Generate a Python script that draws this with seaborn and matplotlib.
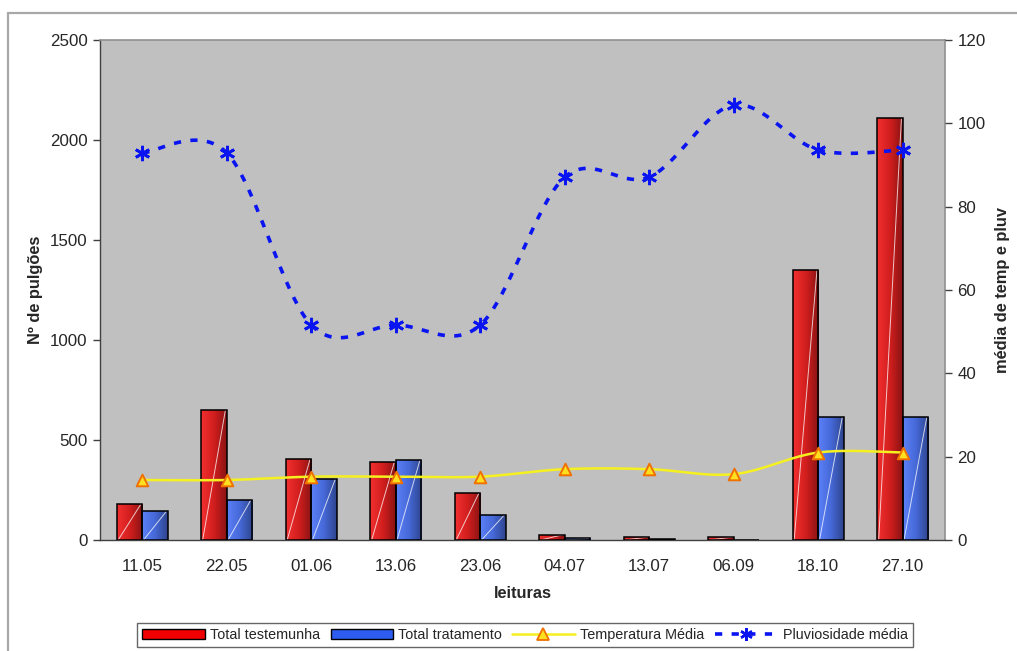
import numpy as np
import pandas as pd
import matplotlib
matplotlib.use("Agg")
import matplotlib.pyplot as plt
import seaborn as sns
from matplotlib.colors import to_rgb, LinearSegmentedColormap
from matplotlib.lines import Line2D
from matplotlib.patches import Patch

# ---- data ----
leituras = ["11.05", "22.05", "01.06", "13.06", "23.06", "04.07", "13.07", "06.09", "18.10", "27.10"]
total_testemunha = [180, 652, 403, 392, 235, 27, 15, 15, 1350, 2110]
total_tratamento = [143, 200, 305, 398, 125, 8, 3, 0, 615, 615]
temperatura_media = [14.4, 14.4, 15.2, 15.2, 15.2, 17.0, 17.0, 15.8, 21.0, 21.0]
pluviosidade_media = [92.9, 92.9, 51.6, 51.6, 51.6, 87.1, 87.1, 104.4, 93.6, 93.6]
left_ticks = [0, 500, 1000, 1500, 2000, 2500]
right_ticks = [0, 20, 40, 60, 80, 100, 120]

RED = "#F00000"
BLUE = "#2E5CF0"

sns.set_theme(style="white")
plt.rcParams["font.family"] = ["Liberation Sans", "DejaVu Sans"]

df = pd.DataFrame({
    "leitura": leituras * 2,
    "serie": ["Total testemunha"] * len(leituras) + ["Total tratamento"] * len(leituras),
    "valor": total_testemunha + total_tratamento,
})

fig = plt.figure(figsize=(10.17, 6.51), dpi=100)
W, H = 1017, 651
ax = fig.add_axes([100 / W, (H - 540) / H, 845 / W, 500 / H])
ax.set_facecolor("#C0C0C0")

sns.barplot(data=df, x="leitura", y="valor", hue="serie", order=leituras,
            hue_order=["Total testemunha", "Total tratamento"],
            palette={"Total testemunha": RED, "Total tratamento": BLUE},
            width=0.6, gap=0, edgecolor="black", linewidth=1.1,
            errorbar=None, legend=False, ax=ax, zorder=3)

ax.set_xlim(-0.5, len(leituras) - 0.5)
ax.set_ylim(0, 2500)

# gradient fill + highlight line on bars
bars = [p for p in ax.patches if p.get_height() > 0]
for p in bars:
    x0, w, h = p.get_x(), p.get_width(), p.get_height()
    base = np.array(to_rgb(p.get_facecolor()))
    light = np.clip(base * 1.08 + 0.06, 0, 1)
    dark = base * 0.65
    cmap = LinearSegmentedColormap.from_list("g", [light, base, dark])
    grad = np.linspace(0, 1, 64).reshape(1, -1)
    im = ax.imshow(grad, extent=[x0, x0 + w, 0, h], aspect="auto", cmap=cmap,
                   zorder=2.9, origin="lower")
    im.set_clip_path(p)
    p.set_facecolor("none")
    p.set_zorder(3.1)
    ax.plot([x0 + w * 0.05, x0 + w * 0.95], [0, h], color="white", lw=0.7,
            alpha=0.75, zorder=3.0, solid_capstyle="butt")

ax.set_xlim(-0.5, len(leituras) - 0.5)
ax.set_ylim(0, 2500)
ax.set_yticks(left_ticks)
ax.set_xticks(range(len(leituras)))
ax.set_xticklabels(leituras)
ax.set_xticks(np.arange(-0.5, len(leituras), 1.0), minor=True)
ax.tick_params(axis="x", which="major", length=0, pad=14, labelsize=12.2)
ax.tick_params(axis="x", which="minor", length=6, width=1, color="#404040", direction="out")
ax.tick_params(axis="y", length=5, width=1, color="#404040", direction="out", pad=4,
               labelsize=12.2, left=True)
ax.set_xlabel("leituras", fontsize=11.8, fontweight="bold", labelpad=8)
ax.set_ylabel("Nº de pulgões", fontsize=11.8, fontweight="bold", labelpad=5)
for s in ["top", "right"]:
    ax.spines[s].set_color("#909090")
    ax.spines[s].set_linewidth(1.2)
for s in ["left", "bottom"]:
    ax.spines[s].set_color("#404040")
    ax.spines[s].set_linewidth(1.0)
ax.grid(False)


def smooth(ys, n=40):
    pts = np.column_stack([np.arange(len(ys), dtype=float), np.asarray(ys, float)])
    out = []
    for i in range(len(pts) - 1):
        p0 = pts[i - 1] if i > 0 else pts[i]
        p1, p2 = pts[i], pts[i + 1]
        p3 = pts[i + 2] if i + 2 < len(pts) else pts[i + 1]
        t = np.linspace(0, 1, n)[:, None]
        seg = 0.5 * ((2 * p1) + (-p0 + p2) * t + (2 * p0 - 5 * p1 + 4 * p2 - p3) * t ** 2
                     + (-p0 + 3 * p1 - 3 * p2 + p3) * t ** 3)
        out.append(seg if i == 0 else seg[1:])
    out = np.vstack(out)
    return out[:, 0], out[:, 1]


ax2 = ax.twinx()
ax2.set_ylim(0, 120)
ax2.set_yticks(right_ticks)
ax2.patch.set_visible(False)
for s in ax2.spines.values():
    s.set_visible(False)
ax2.tick_params(axis="y", length=5, width=1, color="#404040", direction="out", pad=4,
                labelsize=12.2, right=True)
ax2.set_ylabel("média de temp e pluv", fontsize=11.8, fontweight="bold", labelpad=7)
ax2.grid(False)

xs, ys = smooth(temperatura_media)
ax2.plot(xs, ys, color="#F5F020", lw=1.8, zorder=4)
sns.scatterplot(x=np.arange(len(leituras)), y=temperatura_media, marker="^", s=70,
                color="#FFE020", edgecolor="#F07000", linewidth=1.4, ax=ax2, zorder=5,
                legend=False)

xs, ys = smooth(pluviosidade_media)
ax2.plot(xs, ys, color="#0A14F0", lw=2.6, linestyle=(0, (2.0, 2.6)), zorder=4)
ax2.plot(np.arange(len(leituras)), pluviosidade_media, linestyle="none",
         marker=(6, 2, 0), markersize=11, markeredgewidth=2, color="#0A14F0", zorder=5)
ax2.set_xlim(-0.5, len(leituras) - 0.5)

# legend
handles = [
    Patch(facecolor=RED, edgecolor="black", linewidth=1.0),
    Patch(facecolor=BLUE, edgecolor="black", linewidth=1.0),
    Line2D([0], [0], color="#F5F020", lw=1.8, marker="^", markersize=8,
           markerfacecolor="#FFE020", markeredgecolor="#F07000", markeredgewidth=1.3),
    Line2D([0], [0], color="#0A14F0", lw=2.6, linestyle=(0, (2.0, 2.6)),
           marker=(6, 2, 0), markersize=9, markeredgewidth=1.8),
]
labels = ["Total testemunha", "Total tratamento", "Temperatura Média", "Pluviosidade média"]
leg = fig.legend(handles, labels, loc="center", bbox_to_anchor=(525 / W, 1 - 635 / H),
                 ncol=4, fontsize=10.4, frameon=True, fancybox=False, edgecolor="#404040",
                 handlelength=4.3, handleheight=0.75, handletextpad=0.4, columnspacing=0.7,
                 borderpad=0.35, numpoints=1)
leg.get_frame().set_linewidth(1.0)

# outer chart frame
fig.add_artist(Line2D([8 / W, 1.0], [1 - 13 / H, 1 - 13 / H], color="#A8A8A8", lw=1.6,
                      transform=fig.transFigure))
fig.add_artist(Line2D([8 / W, 8 / W], [0, 1 - 13 / H], color="#A8A8A8", lw=1.6,
                      transform=fig.transFigure))

fig.savefig("out.png", dpi=100, facecolor="white")
